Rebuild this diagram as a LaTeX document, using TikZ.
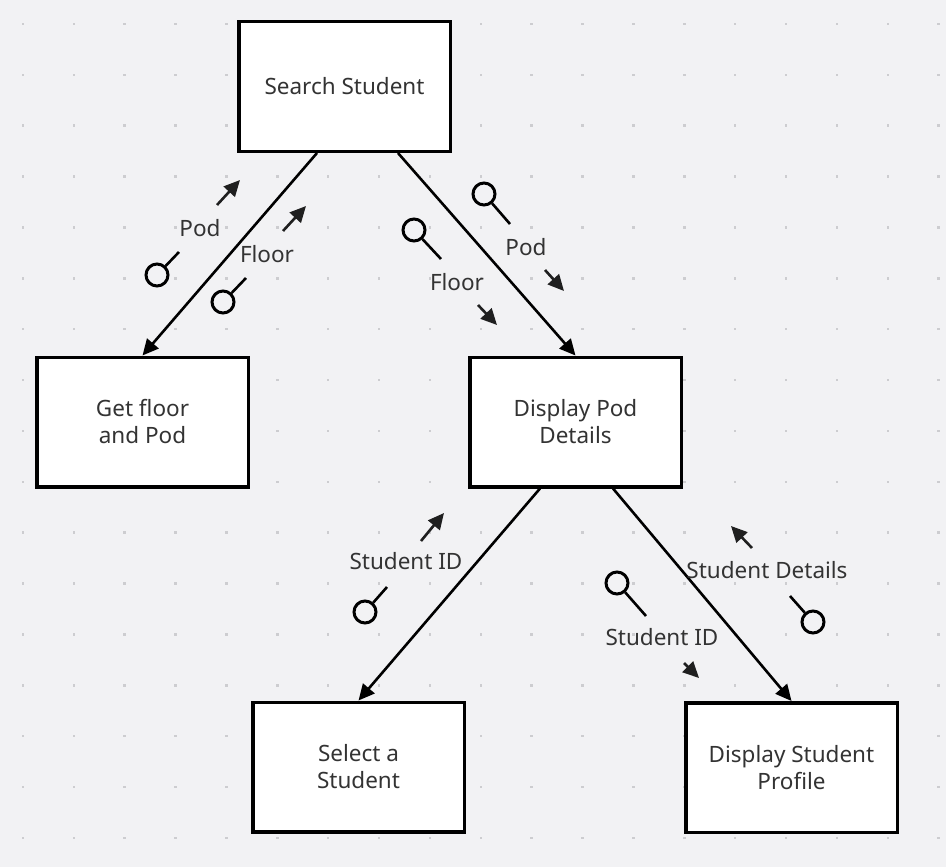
\documentclass[tikz,border=0pt]{standalone}
\usepackage{fontspec}
\setmainfont{Noto Sans}
\usetikzlibrary{arrows.meta}
\definecolor{bg}{HTML}{F2F2F4}
\definecolor{dotc}{HTML}{CDCDD0}
\definecolor{txt}{HTML}{333333}
\tikzset{
  box/.style={draw=black, fill=white, line width=3.5pt, minimum width=211.5pt, minimum height=129.5pt, align=center, text=txt, font=\fontsize{22.5}{27}\selectfont, inner sep=0pt},
  flow/.style={line width=2.6pt, -{Triangle[length=16pt,width=15pt]}},
  couple/.style={draw=black, circle, line width=3pt, minimum size=22pt, inner sep=0pt},
  tail/.style={line width=2.6pt},
  carrow/.style={line width=2.6pt, -{Triangle[length=16pt,width=15pt]}, color=black!88},
  lbl/.style={text=txt, font=\fontsize{22.5}{27}\selectfont, inner sep=0pt}
}
\begin{document}
\begin{tikzpicture}[x=1pt,y=-1pt]
\fill[bg] (0,0) rectangle (946,867);
\useasboundingbox (0,0) rectangle (946,867);
\foreach \i in {0,...,18}{
  \foreach \j in {0,...,16}{
    \fill[dotc] ({23+50.87*\i-1.25},{24+50.87*\j-1.25}) rectangle ++(2.5,2.5);
  }
}
% boxes
\node[box] (ss)  at (344.5,86.5)  {Search Student};
\node[box] (gfp) at (142.5,422)   {Get floor\\and Pod};
\node[box] (dpd) at (575.5,422)   {Display Pod\\Details};
\node[box] (sel) at (358.5,767)   {Select a\\Student};
\node[box] (dsp) at (791.5,767.5) {Display Student\\Profile};
% flows
\draw[flow] ([xshift=-27.5pt]ss.south) -- (gfp.north);
\draw[flow] ([xshift=53.5pt]ss.south) -- (dpd.north);
\draw[flow] ([xshift=-35.5pt]dpd.south) -- (sel.north);
\draw[flow] ([xshift=37.5pt]dpd.south) -- (dsp.north);
% couples: Pod left
\node[couple] (c1) at (157,275) {};
\coordinate (t1) at (179,252);
\draw[tail] (c1) -- (t1);
\coordinate (a1s) at (217,205); \coordinate (a1e) at (240,180);
\draw[carrow] (a1s) -- (a1e);
\node[lbl] (l1) at (200,228) {Pod};
% Floor left
\node[couple] (c2) at (223,302) {};
\coordinate (t2) at (246,278);
\draw[tail] (c2) -- (t2);
\coordinate (a2s) at (283,231); \coordinate (a2e) at (306,206);
\draw[carrow] (a2s) -- (a2e);
\node[lbl] (l2) at (267,254) {Floor};
% Pod right
\node[couple] (c3) at (484,194) {};
\coordinate (t3) at (510,224);
\draw[tail] (c3) -- (t3);
\coordinate (a3s) at (545,270); \coordinate (a3e) at (564,291);
\draw[carrow] (a3s) -- (a3e);
\node[lbl] (l3) at (526,247) {Pod};
% Floor right
\node[couple] (c4) at (414,230) {};
\coordinate (t4) at (441,259);
\draw[tail] (c4) -- (t4);
\coordinate (a4s) at (478,305); \coordinate (a4e) at (497,325);
\draw[carrow] (a4s) -- (a4e);
\node[lbl] (l4) at (457,282) {Floor};
% Student ID left
\node[couple] (c5) at (365,612) {};
\coordinate (t5) at (387,587);
\draw[tail] (c5) -- (t5);
\coordinate (a5s) at (421,541); \coordinate (a5e) at (444,513);
\draw[carrow] (a5s) -- (a5e);
\node[lbl] (l5) at (406,561) {Student ID};
% Student ID right
\node[couple] (c6) at (617,583) {};
\coordinate (t6) at (646,616);
\draw[tail] (c6) -- (t6);
\coordinate (a6s) at (684,663); \coordinate (a6e) at (699,678);
\draw[carrow] (a6s) -- (a6e);
\node[lbl] (l6) at (662,637) {Student ID};
% Student Details
\node[couple] (c7) at (813,622) {};
\coordinate (t7) at (790,596);
\draw[tail] (c7) -- (t7);
\coordinate (a7s) at (752,548); \coordinate (a7e) at (731,526);
\draw[carrow] (a7s) -- (a7e);
\node[lbl] (l7) at (767,570) {Student Details};
\end{tikzpicture}
\end{document}
